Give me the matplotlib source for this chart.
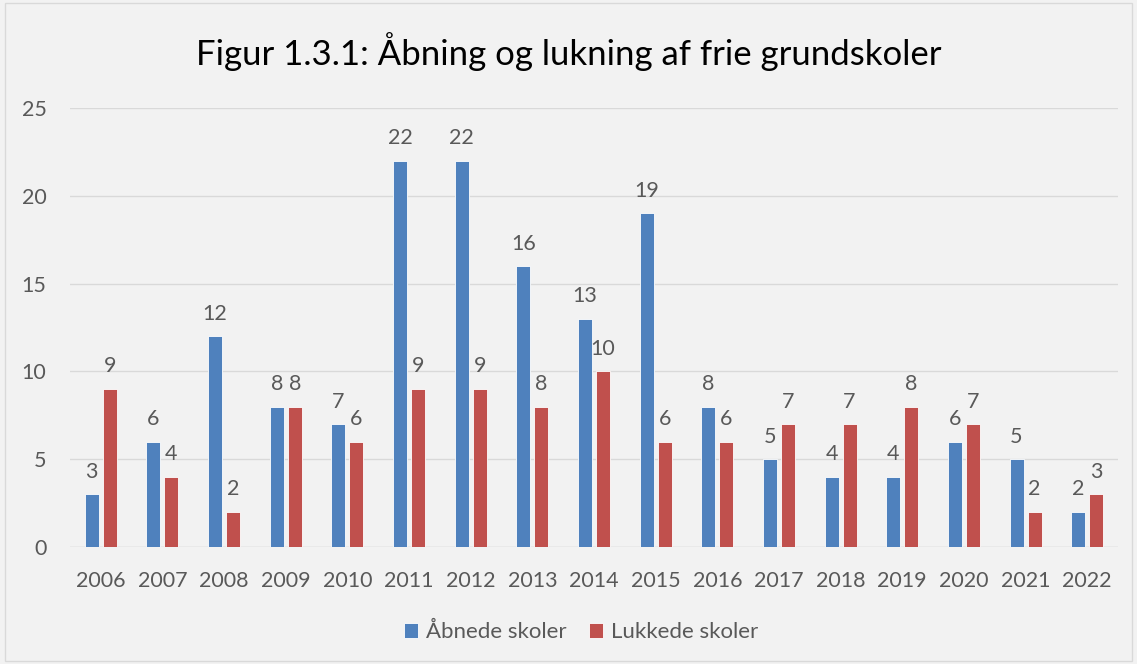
import numpy as np
import matplotlib.pyplot as plt
from matplotlib.patches import Rectangle

years = ['2006', '2007', '2008', '2009', '2010', '2011', '2012', '2013', '2014',
         '2015', '2016', '2017', '2018', '2019', '2020', '2021', '2022']
aabnede = [3, 6, 12, 8, 7, 22, 22, 16, 13, 19, 8, 5, 4, 4, 6, 5, 2]
lukkede = [9, 4, 2, 8, 6, 9, 9, 8, 10, 6, 6, 7, 7, 8, 7, 2, 3]

plt.rcParams['font.family'] = ['Lato', 'DejaVu Sans']
txt = '#595959'
bg = '#F2F2F2'

fig = plt.figure(figsize=(11.37, 6.64), dpi=100, facecolor=bg)
ax = fig.add_axes([70 / 1137, 1 - 547 / 664, 1048 / 1137, 439 / 664])
ax.set_facecolor(bg)

x = np.arange(len(years))
w = 0.227
off = 0.146
b1 = ax.bar(x - off, aabnede, w, color='#4F81BD', edgecolor='white', linewidth=0.6,
            label='Åbnede skoler', zorder=3)
b2 = ax.bar(x + off, lukkede, w, color='#C0504D', edgecolor='white', linewidth=0.6,
            label='Lukkede skoler', zorder=3)
ax.bar_label(b1, padding=9, fontsize=15.5, color=txt)
ax.bar_label(b2, padding=9, fontsize=15.5, color=txt)

ax.set_xlim(-0.5, len(years) - 0.5)
ax.set_ylim(0, 25)
ax.set_yticks(range(0, 26, 5))
ax.set_xticks(x)
ax.set_xticklabels(years)
ax.grid(axis='y', color='#D9D9D9', linewidth=1, zorder=0)
ax.tick_params(length=0, labelsize=15.5, colors=txt, pad=17)
ax.tick_params(axis='y', pad=17)
for s in ax.spines.values():
    s.set_visible(False)
ax.axhline(0, color='#D9D9D9', linewidth=1, zorder=1)

fig.text(0.5, 1 - 52 / 664, 'Figur 1.3.1: Åbning og lukning af frie grundskoler',
         ha='center', va='center', fontsize=25, color='black')

fig.legend(loc='center', bbox_to_anchor=(581 / 1137, 1 - 632 / 664), ncol=2, frameon=False,
           fontsize=16, labelcolor=txt, handlelength=0.65, handleheight=0.65,
           columnspacing=1.0, handletextpad=0.35)

fig.patches.append(Rectangle((0.004, 0.004), 0.992, 0.992, transform=fig.transFigure,
                             fill=False, edgecolor='#D9D9D9', linewidth=1))

plt.savefig('out.png', dpi=100, facecolor=bg)
